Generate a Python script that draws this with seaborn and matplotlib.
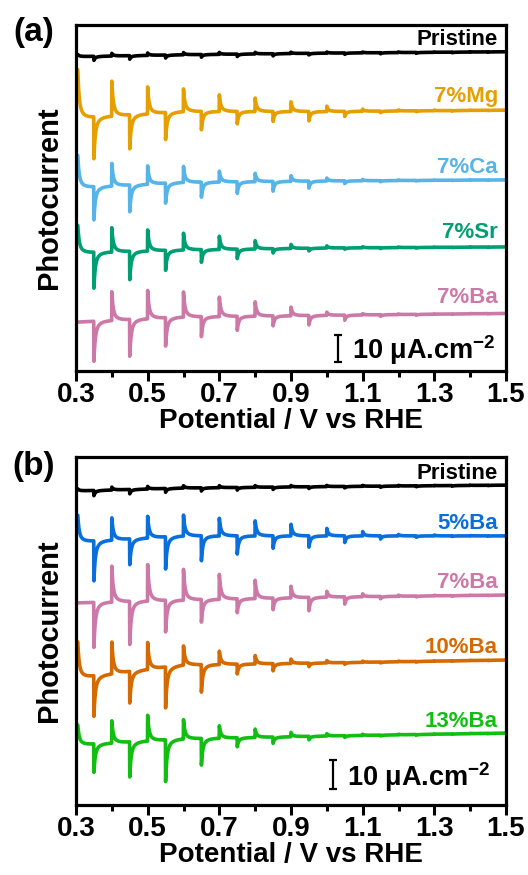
import numpy as np
import pandas as pd
import matplotlib
matplotlib.use("Agg")
import matplotlib.pyplot as plt
import seaborn as sns
from matplotlib.ticker import FixedLocator, FormatStrFormatter

sns.set_style("ticks")
plt.rcParams['font.family'] = ['Liberation Sans', 'DejaVu Sans']
plt.rcParams['font.weight'] = 'bold'
plt.rcParams['mathtext.fontset'] = 'custom'
plt.rcParams['mathtext.rm'] = 'Liberation Sans:bold'
plt.rcParams['mathtext.bf'] = 'Liberation Sans:bold'
plt.rcParams['mathtext.it'] = 'Liberation Sans:bold'
for k in ['text.color', 'axes.labelcolor', 'xtick.color', 'ytick.color', 'axes.edgecolor']:
    plt.rcParams[k] = 'black'

# chopped light: on / off potentials (V vs RHE); scan recorded from 0.305 V
v_start, v_end = 0.305, 1.50
light_on = [0.305, 0.40, 0.50, 0.60, 0.70, 0.80, 0.90, 1.00, 1.10, 1.20, 1.30, 1.40]
light_off = [0.35, 0.45, 0.55, 0.65, 0.75, 0.85, 0.95, 1.05, 1.15, 1.25, 1.35, 1.45]
# baseline read at these potentials
base_v = [0.305, 0.60, 1.00, 1.50]

# ---- panel (a), uA cm-2 (traces offset) ----
a_names = ["Pristine", "7%Mg", "7%Ca", "7%Sr", "7%Ba"]
a_colors = ["#000000", "#E69F00", "#56B4E9", "#009E73", "#CC79A7"]
a_base = [[116.3, 117.0, 117.6, 118.1],
          [93.5, 96.0, 96.0, 96.5],
          [67.8, 69.8, 70.3, 70.7],
          [43.7, 44.8, 45.5, 45.9],
          [18.1, 20.0, 20.6, 21.3]]
a_on = [[0.8, 1.0, 0.9, 0.8, 0.7, 0.6, 0.5, 0.4, 0.3, 0.2, 0.1, 0.1],
        [18.0, 13.0, 10.0, 8.4, 6.2, 5.0, 3.6, 2.0, 0.8, 0.4, 0.2, 0.1],
        [12.0, 8.4, 6.8, 5.9, 4.0, 3.1, 2.1, 1.1, 0.5, 0.2, 0.1, 0.1],
        [10.2, 9.0, 7.8, 6.2, 4.9, 3.1, 1.5, 0.8, 0.4, 0.2, 0.1, 0.1],
        [0.0, 10.7, 10.5, 9.3, 7.2, 5.3, 3.2, 1.2, 0.5, 0.2, 0.1, 0.1]]
a_off = [[1.5, 1.3, 1.1, 1.0, 0.9, 0.8, 0.6, 0.5, 0.4, 0.3, 0.2, 0.1],
         [15.5, 12.6, 10.0, 6.8, 4.6, 3.7, 3.5, 1.9, 0.6, 0.3, 0.2, 0.1],
         [12.3, 9.9, 7.4, 5.6, 4.3, 3.6, 2.6, 1.0, 0.4, 0.2, 0.1, 0.1],
         [13.3, 10.5, 7.4, 4.7, 3.5, 1.6, 1.0, 0.5, 0.3, 0.2, 0.1, 0.1],
         [14.8, 13.6, 10.5, 7.4, 5.2, 3.7, 3.5, 1.9, 0.6, 0.3, 0.1, 0.1]]

# ---- panel (b) ----
b_names = ["Pristine", "5%Ba", "7%Ba", "10%Ba", "13%Ba"]
b_colors = ["#000000", "#0B6FDB", "#CC79A7", "#D46A00", "#12BE12"]
b_base = [[108.3, 109.3, 109.8, 110.3],
          [90.7, 92.8, 92.8, 92.8],
          [69.7, 70.7, 71.7, 72.4],
          [43.8, 48.3, 49.0, 50.0],
          [20.7, 22.8, 23.8, 24.8]]
b_on = [[0.7, 1.0, 0.9, 0.8, 0.7, 0.6, 0.5, 0.4, 0.3, 0.2, 0.1, 0.1],
        [9.2, 7.7, 7.5, 7.2, 6.1, 5.2, 4.0, 2.6, 1.5, 0.5, 0.3, 0.1],
        [0.0, 12.4, 12.6, 10.6, 8.6, 6.3, 4.0, 2.0, 1.0, 0.4, 0.2, 0.1],
        [12.4, 11.0, 9.3, 6.6, 4.6, 2.9, 1.5, 0.8, 0.4, 0.2, 0.1, 0.1],
        [6.9, 7.7, 8.9, 6.7, 4.3, 2.9, 1.5, 0.8, 0.4, 0.2, 0.1, 0.1]]
b_off = [[1.8, 1.5, 1.3, 1.1, 0.9, 0.8, 0.6, 0.5, 0.4, 0.3, 0.2, 0.1],
         [13.8, 8.9, 11.1, 8.6, 6.3, 4.3, 3.9, 2.3, 1.1, 0.5, 0.2, 0.1],
         [15.5, 14.9, 10.9, 7.8, 4.8, 4.0, 4.6, 2.5, 0.8, 0.3, 0.2, 0.1],
         [14.0, 10.9, 14.1, 9.5, 3.4, 2.5, 1.2, 0.6, 0.3, 0.2, 0.1, 0.1],
         [9.8, 12.1, 14.4, 9.2, 3.1, 2.2, 1.2, 0.6, 0.3, 0.2, 0.1, 0.1]]

x_major = [0.3, 0.5, 0.7, 0.9, 1.1, 1.3, 1.5]
x_minor = [0.4, 0.6, 0.8, 1.0, 1.2, 1.4]

v = np.arange(v_start, v_end + 1e-6, 0.0005)


def transient(v0, amp):
    dt = v - v0
    d = np.clip(dt, 0, None)
    k = 0.7 * np.exp(-d / 0.0035) + 0.3 * np.exp(-d / 0.012)
    return np.where(dt >= -1e-9, amp * k, 0.0)


def build(names, bases, ons, offs):
    rows = []
    for name, b, on, off in zip(names, bases, ons, offs):
        y = np.interp(v, base_v, b)
        for v0, a in zip(light_on, on):
            y = y + transient(v0, a)
        for v0, a in zip(light_off, off):
            y = y - transient(v0, a)
        rows.append(pd.DataFrame({"potential": v, "current": y, "sample": name}))
    return pd.concat(rows, ignore_index=True)


def style_ax(ax, ymax):
    ax.set_xlim(0.3, 1.5)
    ax.set_ylim(0, ymax)
    ax.set_yticks([])
    ax.xaxis.set_major_locator(FixedLocator(x_major))
    ax.xaxis.set_minor_locator(FixedLocator(x_minor))
    ax.xaxis.set_major_formatter(FormatStrFormatter('%.1f'))
    ax.tick_params(axis='x', which='major', length=7, width=2.2, labelsize=20, pad=1)
    ax.tick_params(axis='x', which='minor', length=4, width=2.2)
    for s in ax.spines.values():
        s.set_linewidth(2.3)
    ax.set_xlabel("Potential / V vs RHE", fontsize=20, fontweight='bold', labelpad=0)
    ax.set_ylabel("Photocurrent", fontsize=21, fontweight='bold')
    ax.yaxis.set_label_coords(-0.03, 0.5)


fig = plt.figure(figsize=(5.28, 8.75), dpi=100)
ax_a = fig.add_axes([76 / 528, 1 - 371 / 875, 430 / 528, 346 / 875])
ax_b = fig.add_axes([76 / 528, 1 - 805 / 875, 430 / 528, 348 / 875])

df_a = build(a_names, a_base, a_on, a_off)
df_b = build(b_names, b_base, b_on, b_off)

sns.lineplot(data=df_a, x="potential", y="current", hue="sample", hue_order=a_names,
             palette=dict(zip(a_names, a_colors)), estimator=None, sort=False,
             lw=2.6, legend=False, ax=ax_a)
sns.lineplot(data=df_b, x="potential", y="current", hue="sample", hue_order=b_names,
             palette=dict(zip(b_names, b_colors)), estimator=None, sort=False,
             lw=2.6, legend=False, ax=ax_b)

style_ax(ax_a, 128)
style_ax(ax_b, 120)

a_label_y = [0.957, 0.792, 0.587, 0.399, 0.211]
for name, c, yy in zip(a_names, a_colors, a_label_y):
    ax_a.text(0.981, yy, name, color=c, fontsize=16, fontweight='bold',
              ha='right', va='center', transform=ax_a.transAxes)
b_label_y = [0.954, 0.810, 0.638, 0.454, 0.239]
for name, c, yy in zip(b_names, b_colors, b_label_y):
    ax_b.text(0.981, yy, name, color=c, fontsize=16, fontweight='bold',
              ha='right', va='center', transform=ax_b.transAxes)

# scale bars: 10 uA cm-2
ax_a.errorbar([1.031], [3.3 + 5], yerr=5, color='k', lw=1.6, capsize=3, capthick=1.6)
ax_a.text(1.07, 0.061, r"10 μA.cm$^{-2}$", fontsize=19.5, fontweight='bold',
          ha='left', va='center', transform=ax_a.get_xaxis_transform())
ax_b.errorbar([1.017], [5.5 + 5], yerr=5, color='k', lw=1.6, capsize=3, capthick=1.6)
ax_b.text(1.056, 0.080, r"10 μA.cm$^{-2}$", fontsize=19.5, fontweight='bold',
          ha='left', va='center', transform=ax_b.get_xaxis_transform())

fig.text(34 / 528, 1 - 33 / 875, "(a)", fontsize=24, fontweight='bold', ha='center', va='center')
fig.text(34 / 528, 1 - 466 / 875, "(b)", fontsize=24, fontweight='bold', ha='center', va='center')

fig.savefig("out.png", dpi=100)
